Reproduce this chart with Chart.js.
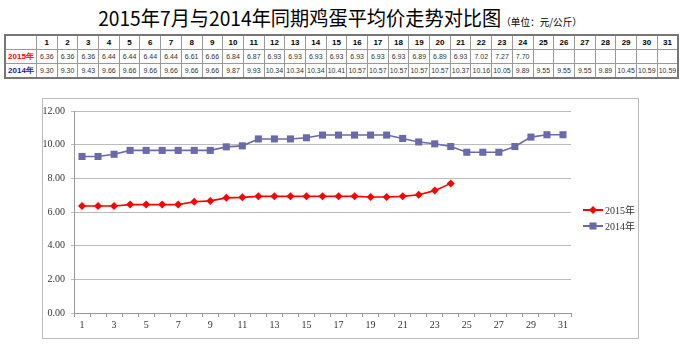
<!DOCTYPE html>
<html>
<head>
<meta charset="utf-8">
<script src="https://cdn.jsdelivr.net/npm/chart.js@4/dist/chart.umd.min.js"></script>
<style>
  body { margin: 0; width: 680px; height: 351px; background: #fff; position: relative; overflow: hidden; font-family: "Noto Sans CJK SC", sans-serif; }
  #title { position: absolute; left: 0; top: 3px; width: 680px; text-align: center; font-size: 20px; color: #000; white-space: nowrap; transform: scaleX(0.96); }
  #title small { font-size: 10px; }
  table { position: absolute; left: 4px; top: 34px; border-collapse: collapse; table-layout: fixed; border: 2px solid #777; }
  td { border: 1px solid #999; height: 13px; padding: 0; text-align: center; font-family: Arial, "Liberation Sans", sans-serif; font-size: 7px; color: #333; width: 19.7px; overflow: hidden; white-space: nowrap; }
  td.lab { width: 30px; font-weight: bold; font-size: 8px; }
  tr.head td { font-weight: bold; font-size: 8px; color: #000; }
  #box { position: absolute; left: 42px; top: 98px; width: 595px; height: 239px; border: 1px solid #bbb; }
  #wrap { position: absolute; left: 0; top: 0; width: 595px; height: 239px; }
</style>
</head>
<body>
<div id="title">2015年7月与2014年同期鸡蛋平均价走势对比图<small>（单位：元/公斤）</small></div>
<table id="tbl"></table>
<div id="box"><div id="wrap"><canvas id="c"></canvas></div></div>
<script>
// days of July
const days = Array.from({ length: 31 }, (_, i) => String(i + 1));
// average egg price, yuan/kg
const price2015 = [6.36, 6.36, 6.36, 6.44, 6.44, 6.44, 6.44, 6.61, 6.66, 6.84, 6.87, 6.93, 6.93, 6.93, 6.93, 6.93, 6.93, 6.93, 6.89, 6.89, 6.93, 7.02, 7.27, 7.70,
  null, null, null, null, null, null, null];
const price2014 = [9.30, 9.30, 9.43, 9.66, 9.66, 9.66, 9.66, 9.66, 9.66, 9.87, 9.93, 10.34, 10.34, 10.34, 10.41, 10.57, 10.57, 10.57, 10.57, 10.57, 10.37,
  10.16, 10.05, 9.89, 9.55, 9.55, 9.55, 9.89, 10.45, 10.59, 10.59];
const yTicks = [0, 2, 4, 6, 8, 10, 12];

// build the data table above the chart
const tbl = document.getElementById('tbl');
function addRow(label, vals, cls, color) {
    const tr = document.createElement('tr');
    if (cls) tr.className = cls;
    const th = document.createElement('td');
    th.className = 'lab';
    th.textContent = label;
    th.style.color = color;
    tr.appendChild(th);
    vals.forEach(v => {
        const td = document.createElement('td');
        td.textContent = v == null ? '' : (typeof v === 'number' ? v.toFixed(2) : v);
        tr.appendChild(td);
    });
    tbl.appendChild(tr);
}
addRow('', days, 'head', '#000');
addRow('2015年', price2015, '', '#ff0000');
addRow('2014年', price2014, '', '#1a1aa0');

// legend drawn at the right of the plot, line + marker like Excel
const sideLegend = {
    id: 'sideLegend',
    afterDraw(chart) {
        const ctx = chart.ctx;
        const area = chart.chartArea;
        const x0 = area.right + 12;
        let y = (area.top + area.bottom) / 2 - 2;
        chart.data.datasets.forEach(ds => {
            ctx.save();
            ctx.strokeStyle = ds.borderColor;
            ctx.lineWidth = 2;
            ctx.beginPath();
            ctx.moveTo(x0, y);
            ctx.lineTo(x0 + 20, y);
            ctx.stroke();
            ctx.fillStyle = ds.backgroundColor;
            ctx.strokeStyle = ds.borderColor;
            Chart.helpers.drawPoint(ctx, { pointStyle: ds.pointStyle, radius: ds.pointRadius, borderWidth: 0 }, x0 + 10, y);
            ctx.fillStyle = '#333';
            ctx.font = '10px "Liberation Serif", "Noto Sans CJK SC", serif';
            ctx.textBaseline = 'middle';
            ctx.fillText(ds.label, x0 + 22, y + 1);
            ctx.restore();
            y += 16;
        });
    }
};

const tickFont = { family: '"Liberation Serif", serif', size: 10 };

new Chart(document.getElementById('c'), {
    type: 'line',
    data: {
        labels: days,
        datasets: [
            {
                label: '2015年',
                data: price2015,
                borderColor: '#ff0000',
                backgroundColor: '#ff0000',
                borderWidth: 1.6,
                pointStyle: 'rectRot',
                pointRadius: 4,
                pointBorderWidth: 0,
                tension: 0,
                spanGaps: false
            },
            {
                label: '2014年',
                data: price2014,
                borderColor: '#6a6aaa',
                backgroundColor: '#6a6aaa',
                borderWidth: 1.6,
                pointStyle: 'rect',
                pointRadius: 5,
                pointBorderWidth: 0,
                tension: 0
            }
        ]
    },
    options: {
        responsive: true,
        maintainAspectRatio: false,
        animation: false,
        layout: { padding: { top: 8, right: 67, left: 0, bottom: 0 } },
        plugins: { legend: { display: false }, tooltip: { enabled: false } },
        scales: {
            x: {
                offset: true,
                grid: { offset: true, drawOnChartArea: false, color: '#999', tickLength: 4 },
                border: { color: '#999' },
                ticks: {
                    autoSkip: false,
                    maxRotation: 0,
                    color: '#333',
                    font: tickFont,
                    padding: 2,
                    callback: function(val, i) { return i % 2 === 0 ? days[i] : ''; }
                },
                afterFit: function(s) { s.height = 25; }
            },
            y: {
                min: 0,
                max: 12,
                afterBuildTicks: function(s) { s.ticks = yTicks.map(v => ({ value: v })); },
                grid: { color: '#bbb', tickLength: 3 },
                border: { color: '#999' },
                ticks: {
                    color: '#333',
                    font: tickFont,
                    padding: 6,
                    callback: v => v.toFixed(2)
                },
                afterFit: function(s) { s.width = 31; }
            }
        }
    },
    plugins: [sideLegend]
});
</script>
</body>
</html>
